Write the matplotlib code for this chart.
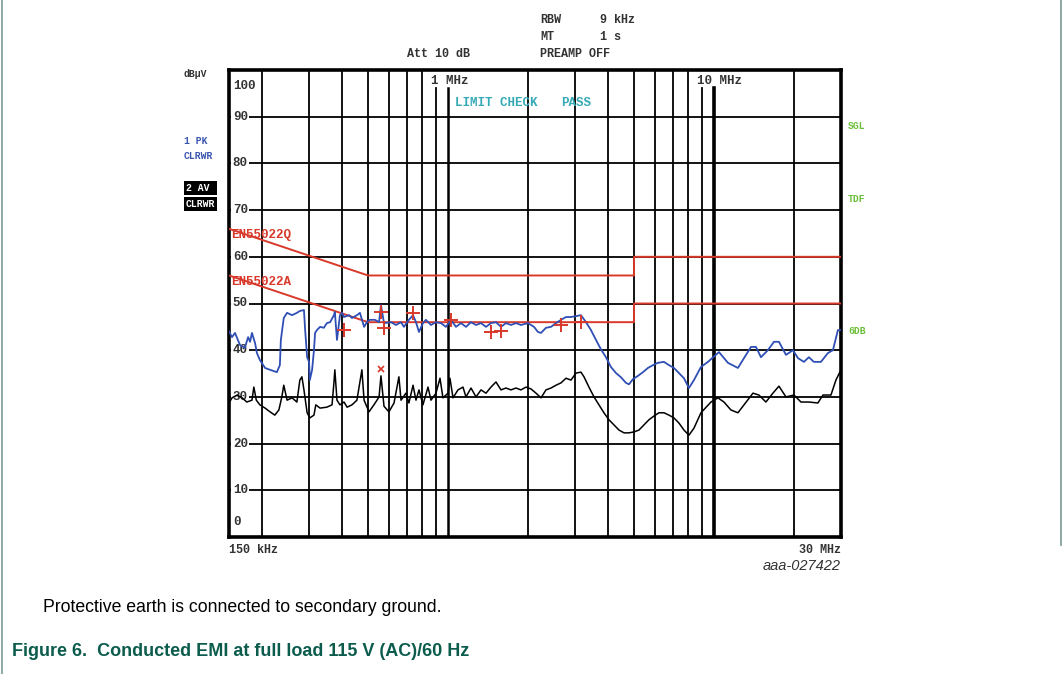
import numpy as np
import matplotlib
matplotlib.use('Agg')
import matplotlib.pyplot as plt
from matplotlib.ticker import NullLocator

# trace 1: peak detector (MHz, dBuV)
pk_freq = [0.150, 0.154, 0.158, 0.165, 0.172, 0.177, 0.180, 0.183, 0.188, 0.191,
           0.196, 0.205, 0.214, 0.227, 0.233, 0.235, 0.241, 0.248, 0.259, 0.270,
           0.277, 0.287, 0.290, 0.295, 0.300, 0.302, 0.308, 0.313, 0.316, 0.321,
           0.330, 0.341, 0.350, 0.360, 0.372, 0.375, 0.382, 0.389, 0.392, 0.399,
           0.406, 0.424, 0.435, 0.454, 0.466, 0.483, 0.495, 0.508, 0.531, 0.550,
           0.559, 0.574, 0.610, 0.637, 0.665, 0.682, 0.712, 0.738, 0.757, 0.777,
           0.804, 0.825, 0.862, 0.900, 0.940, 0.981, 1.025, 1.070, 1.118, 1.167,
           1.219, 1.273, 1.329, 1.388, 1.449, 1.513, 1.580, 1.650, 1.723, 1.799,
           1.878, 1.996, 2.103, 2.177, 2.234, 2.333, 2.436, 2.544, 2.656, 2.774,
           2.897, 3.024, 3.158, 3.299, 3.444, 3.597, 3.754, 3.921, 4.095, 4.277,
           4.466, 4.663, 4.785, 4.954, 5.172, 5.401, 5.640, 5.889, 6.151, 6.479,
           6.765, 7.064, 7.376, 7.703, 8.043, 8.398, 8.925, 9.482, 10.16, 10.43,
           11.27, 12.29, 12.95, 13.76, 14.37, 15.00, 15.93, 16.79, 17.53, 18.63,
           19.79, 20.67, 21.77, 22.72, 23.72, 25.21, 26.80, 27.97, 29.21, 30.0]
pk_level = [44.0, 42.8, 43.7, 41.1, 40.5, 42.8, 41.8, 43.7, 41.5, 39.4,
            37.9, 36.2, 35.8, 35.3, 36.8, 42.2, 46.9, 48.0, 47.5, 48.0,
            48.4, 48.6, 44.3, 38.5, 37.5, 33.6, 35.8, 40.0, 43.7, 44.3,
            45.0, 44.8, 45.8, 46.0, 47.5, 48.2, 42.2, 45.8, 47.5, 48.0,
            47.1, 47.5, 46.9, 47.5, 48.0, 45.0, 46.0, 46.5, 46.5, 46.0,
            49.7, 45.8, 46.0, 45.4, 46.0, 45.0, 46.5, 47.5, 46.0, 43.9,
            45.8, 46.5, 45.4, 46.0, 45.8, 45.0, 46.5, 45.0, 45.8, 45.0,
            46.0, 45.4, 45.8, 45.0, 45.8, 46.0, 45.0, 45.8, 45.4, 45.8,
            45.4, 45.8, 45.0, 43.9, 43.7, 44.8, 45.0, 45.8, 46.5, 47.1,
            47.1, 47.3, 47.5, 46.0, 44.3, 42.2, 40.2, 38.5, 36.4, 35.1,
            34.2, 33.0, 32.7, 33.8, 34.5, 35.3, 36.2, 36.8, 37.3, 37.5,
            36.8, 36.2, 35.1, 34.0, 31.9, 33.6, 36.4, 37.5, 39.0, 39.6,
            37.3, 36.2, 38.3, 40.7, 40.7, 38.5, 40.0, 41.8, 41.8, 39.0,
            40.0, 38.3, 37.5, 38.5, 37.5, 37.5, 39.4, 40.0, 44.3, 44.3]

# trace 2: average detector (MHz, dBuV)
av_freq = [0.150, 0.154, 0.161, 0.168, 0.175, 0.183, 0.186, 0.190, 0.196, 0.205,
           0.214, 0.223, 0.231, 0.237, 0.241, 0.248, 0.259, 0.270, 0.277, 0.282,
           0.287, 0.295, 0.302, 0.313, 0.318, 0.330, 0.350, 0.366, 0.372, 0.375,
           0.382, 0.392, 0.406, 0.417, 0.435, 0.454, 0.466, 0.474, 0.483, 0.504,
           0.526, 0.550, 0.559, 0.574, 0.599, 0.626, 0.653, 0.665, 0.694, 0.712,
           0.738, 0.757, 0.777, 0.804, 0.840, 0.862, 0.900, 0.932, 0.956, 0.999,
           1.016, 1.043, 1.089, 1.137, 1.167, 1.219, 1.273, 1.329, 1.388, 1.449,
           1.513, 1.580, 1.650, 1.723, 1.799, 1.878, 1.962, 2.049, 2.140, 2.234,
           2.333, 2.436, 2.544, 2.656, 2.774, 2.897, 3.024, 3.158, 3.242, 3.384,
           3.535, 3.690, 3.853, 4.024, 4.203, 4.389, 4.583, 4.785, 4.997, 5.217,
           5.448, 5.689, 5.941, 6.204, 6.479, 6.765, 7.064, 7.376, 7.703, 8.043,
           8.398, 8.925, 9.730, 10.34, 10.89, 11.57, 12.29, 12.95, 14.00, 14.74,
           15.66, 16.64, 17.53, 18.63, 19.97, 21.22, 22.72, 24.56, 25.66, 27.50,
           28.71, 30.0]
av_level = [28.7, 29.8, 30.4, 29.8, 28.9, 29.3, 32.1, 29.3, 28.3, 27.6,
            26.8, 26.1, 27.2, 30.0, 32.5, 29.3, 29.8, 28.9, 33.6, 34.3,
            31.5, 26.6, 25.5, 26.1, 28.3, 27.6, 27.8, 28.3, 33.0, 35.8,
            29.3, 28.3, 28.9, 27.8, 28.3, 29.3, 33.2, 35.8, 29.3, 26.8,
            28.3, 30.0, 34.5, 28.0, 26.8, 28.7, 34.3, 29.3, 30.8, 28.7,
            32.5, 29.3, 31.5, 28.3, 32.1, 29.3, 30.8, 34.0, 29.8, 30.8,
            34.0, 29.8, 31.5, 32.1, 30.0, 31.9, 30.0, 31.5, 30.8, 32.1,
            33.2, 31.5, 31.9, 31.5, 31.9, 31.5, 32.1, 31.7, 30.8, 29.8,
            31.5, 31.9, 32.5, 33.0, 34.0, 33.6, 35.1, 35.3, 34.3, 32.1,
            30.0, 28.3, 26.6, 25.1, 24.0, 22.9, 22.3, 22.3, 22.5, 22.9,
            24.0, 25.1, 25.9, 26.6, 26.6, 26.1, 25.5, 24.4, 22.9, 21.8,
            23.3, 26.6, 28.9, 29.8, 28.9, 27.2, 26.6, 28.3, 30.8, 30.4,
            28.9, 30.8, 32.3, 30.0, 30.4, 28.9, 28.9, 28.7, 30.4, 30.4,
            33.6, 35.8]

# EN55022 class B limits
qp_freq = [0.15, 0.5, 5.0, 5.0, 30.0]
qp_limit = [66, 56, 56, 60, 60]
av_lim_freq = [0.15, 0.5, 5.0, 5.0, 30.0]
av_limit = [56, 46, 46, 50, 50]

# final measurement markers
mark_freq = [0.406, 0.559, 0.574, 0.738, 1.025, 1.449, 1.580, 2.656, 3.158]
mark_level = [44.3, 48.2, 44.8, 48.0, 46.5, 43.9, 44.1, 45.4, 46.0]
x_freq = [0.559]
x_level = [36.0]

grid_freqs = [0.2, 0.3, 0.4, 0.5, 0.6, 0.7, 0.8, 0.9, 1, 2, 3, 4, 5, 6, 7, 8, 9, 10, 20]
short_freqs = [0.9, 1, 9, 10]   # these stop under the "MHz" labels
grid_levels = [10, 20, 30, 40, 50, 60, 70, 80, 90]

W, H = 1063, 674
fig = plt.figure(figsize=(W / 100, H / 100), dpi=100)
ax = fig.add_axes([229 / W, 1 - 537 / H, 612 / W, 467 / H])

def px(x, y):
    return x / W, 1 - y / H

mono = dict(family=['Liberation Mono', 'DejaVu Sans Mono'], weight='bold')

ax.set_xscale('log')
ax.set_xlim(0.15, 30)
ax.set_ylim(0, 100)
ax.xaxis.set_major_locator(NullLocator())
ax.xaxis.set_minor_locator(NullLocator())
ax.yaxis.set_major_locator(NullLocator())
for s in ax.spines.values():
    s.set_linewidth(2.6)

for f in grid_freqs:
    lw = 2.6 if f == 10 else (1.8 if f == 1 else 1.3)
    top = 0.961 if f in short_freqs else 1.0
    ax.axvline(f, ymax=top, color='black', lw=lw, zorder=1)
for lv in grid_levels:
    ax.axhline(lv, color='black', lw=1.3, zorder=1)

# level labels inside the frame
box = dict(facecolor='white', edgecolor='none', pad=1.2)
for lv in grid_levels:
    ax.text(0.155, lv, str(lv), fontsize=9, color='#333333', va='center', ha='left',
            bbox=box, zorder=2, **mono)
ax.text(0.155, 96.5, '100', fontsize=9, color='#333333', va='center', ha='left', zorder=2, **mono)
ax.text(0.155, 3.3, '0', fontsize=9, color='#333333', va='center', ha='left', zorder=2, **mono)

ax.text(0.865, 97.6, '1 MHz', fontsize=9, color='#333333', va='center', ha='left', zorder=2, **mono)
ax.text(8.6, 97.6, '10 MHz', fontsize=9, color='#333333', va='center', ha='left', zorder=2, **mono)
ax.text(1.06, 93.0, 'LIMIT CHECK', fontsize=9, color='#35a9b5', va='center', ha='left', zorder=5, **mono)
ax.text(2.65, 93.0, 'PASS', fontsize=9, color='#35a9b5', va='center', ha='left', zorder=5, **mono)

# limit lines
ax.plot(qp_freq, qp_limit, color='#d8392b', lw=1.4, zorder=3)
ax.plot(av_lim_freq, av_limit, color='#d8392b', lw=1.4, zorder=3)
ax.text(0.153, 64.6, 'EN55022Q', fontsize=9, color='#d8392b', va='center', ha='left', zorder=3, **mono)
ax.text(0.153, 54.6, 'EN55022A', fontsize=9, color='#d8392b', va='center', ha='left', zorder=3, **mono)

# traces
ax.plot(pk_freq, pk_level, color='#2f4fb5', lw=1.3, zorder=4)
ax.plot(av_freq, av_level, color='black', lw=1.1, zorder=4)
ax.plot(mark_freq, mark_level, ls='none', marker='+', ms=10, mew=1.4, color='#d8392b', zorder=5)
ax.plot(x_freq, x_level, ls='none', marker='x', ms=5, mew=1.2, color='#d8392b', zorder=5)

# analyzer header texts
fig.text(*px(540, 20), 'RBW', fontsize=8.5, color='#333333', va='center', **mono)
fig.text(*px(600, 20), '9 kHz', fontsize=8.5, color='#333333', va='center', **mono)
fig.text(*px(540, 37), 'MT', fontsize=8.5, color='#333333', va='center', **mono)
fig.text(*px(600, 37), '1 s', fontsize=8.5, color='#333333', va='center', **mono)
fig.text(*px(407, 54), 'Att 10 dB', fontsize=8.5, color='#333333', va='center', **mono)
fig.text(*px(540, 54), 'PREAMP OFF', fontsize=8.5, color='#333333', va='center', **mono)
fig.text(*px(184, 74), 'dBµV', fontsize=7, color='#333333', va='center', **mono)

fig.text(*px(184, 141), '1 PK', fontsize=7, color='#3a55b0', va='center', **mono)
fig.text(*px(184, 156), 'CLRWR', fontsize=7, color='#3a55b0', va='center', **mono)
fig.text(*px(186, 188), '2 AV ', fontsize=7, color='white', va='center',
         bbox=dict(facecolor='black', edgecolor='none', pad=1.5), **mono)
fig.text(*px(186, 204), 'CLRWR', fontsize=7, color='white', va='center',
         bbox=dict(facecolor='black', edgecolor='none', pad=1.5), **mono)

fig.text(*px(848, 126), 'SGL', fontsize=7, color='#6bbf3a', va='center', **mono)
fig.text(*px(848, 199), 'TDF', fontsize=7, color='#6bbf3a', va='center', **mono)
fig.text(*px(848, 331), '6DB', fontsize=7, color='#6bbf3a', va='center', **mono)

fig.text(*px(229, 550), '150 kHz', fontsize=8.5, color='#333333', va='center', **mono)
fig.text(*px(841, 550), '30 MHz', fontsize=8.5, color='#333333', va='center', ha='right', **mono)
fig.text(*px(841, 566), 'aaa-027422', fontsize=10.5, color='#333333', va='center', ha='right',
         style='italic', family=['Liberation Sans', 'DejaVu Sans'])

# caption
fig.text(*px(43, 607), 'Protective earth is connected to secondary ground.', fontsize=12.7,
         color='black', va='center', family=['Liberation Sans', 'DejaVu Sans'])
fig.text(*px(12, 652), 'Figure 6.  Conducted EMI at full load 115 V (AC)/60 Hz', fontsize=13,
         color='#0b5c4c', weight='bold', va='center',
         family=['Liberation Sans', 'DejaVu Sans'])

# page border lines
fig.add_artist(plt.Line2D([2 / W, 2 / W], [0, 1], color='#7a9a95', lw=1.2))
fig.add_artist(plt.Line2D([1061 / W, 1061 / W], [1 - 545 / H, 1], color='#7a9a95', lw=1.2))

fig.savefig('out.png', dpi=100)
